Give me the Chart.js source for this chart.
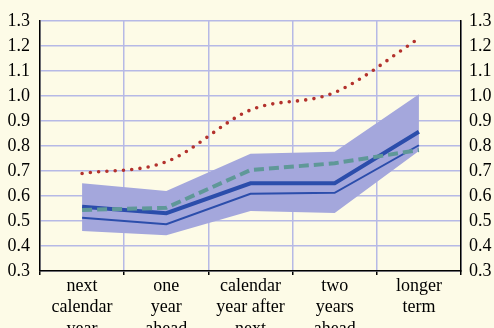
<!DOCTYPE html>
<html>
<head>
<meta charset="utf-8">
<script src="https://cdn.jsdelivr.net/npm/chart.js@4/dist/chart.umd.min.js"></script>
<style>
  html, body { margin: 0; padding: 0; background: #fdfbe7; }
  #wrap { width: 494px; height: 328px; }
</style>
</head>
<body>
<div id="wrap"><canvas id="chart" width="494" height="328"></canvas></div>
<script>
// categories (multi-line labels)
var horizons = [
    ["next", "calendar", "year"],
    ["one", "year", "ahead"],
    ["calendar", "year after", "next"],
    ["two", "years", "ahead"],
    ["longer", "term"]
];

// series
var bandLow   = [0.46, 0.443, 0.54, 0.532, 0.78];
var bandHigh  = [0.651, 0.62, 0.769, 0.777, 1.007];
var thickLine = [0.557, 0.531, 0.651, 0.651, 0.857];
var thinLine  = [0.513, 0.487, 0.609, 0.613, 0.803];
var dashLine  = [0.544, 0.553, 0.704, 0.731, 0.784];
var dotLine   = [0.69, 0.737, 0.944, 1.014, 1.23];

var yMin = 0.3, yMax = 1.3, yStep = 0.1;

var gridColor = "#b6b9e6";
var font = { family: "'Liberation Serif', 'Times New Roman', serif", size: 18 };

var chart = new Chart("chart", {
    type: "line",
    data: {
        labels: horizons,
        datasets: [{
            data: bandLow,
            borderWidth: 0,
            pointRadius: 0,
            fill: false,
            order: 10
        }, {
            data: bandHigh,
            borderWidth: 0,
            pointRadius: 0,
            backgroundColor: "#a4a7dc",
            fill: "-1",
            order: 9
        }, {
            data: thinLine,
            borderColor: "#2b4dab",
            borderWidth: 2,
            pointRadius: 0,
            fill: false,
            order: 5
        }, {
            data: thickLine,
            borderColor: "#2b4dab",
            borderWidth: 4,
            pointRadius: 0,
            fill: false,
            order: 4
        }, {
            data: dashLine,
            borderColor: "#5f9898",
            borderWidth: 4,
            borderDash: [10, 5],
            pointRadius: 0,
            fill: false,
            order: 3
        }, {
            data: dotLine,
            borderColor: "#b3322d",
            borderWidth: 3.6,
            borderDash: [0, 8.3],
            borderCapStyle: "round",
            pointRadius: 0,
            cubicInterpolationMode: "monotone",
            fill: false,
            order: 1
        }]
    },
    options: {
        responsive: false,
        animation: false,
        events: [],
        layout: { padding: { top: 21, right: 0, left: 0, bottom: 0 } },
        plugins: {
            legend: { display: false },
            tooltip: { enabled: false }
        },
        scales: {
            x: {
                offset: true,
                grid: {
                    offset: true,
                    color: gridColor,
                    lineWidth: 1.5,
                    tickColor: "#000",
                    tickLength: 4,
                    tickWidth: 1.5
                },
                border: { color: "#000", width: 1.5 },
                ticks: {
                    color: "#000",
                    font: font,
                    padding: 0,
                    maxRotation: 0,
                    autoSkip: false
                },
                afterFit: function(scale) { scale.height = 57; }
            },
            y: {
                min: yMin,
                max: yMax,
                grid: { color: gridColor, lineWidth: 1.5, drawTicks: false },
                border: { color: "#000", width: 1.5 },
                ticks: {
                    stepSize: yStep,
                    color: "#000",
                    font: font,
                    padding: 10,
                    callback: function(v) { return v.toFixed(1); }
                },
                afterFit: function(scale) { scale.width = 40; }
            },
            y2: {
                position: "right",
                min: yMin,
                max: yMax,
                grid: { drawOnChartArea: false, drawTicks: false },
                border: { color: "#000", width: 1.5 },
                ticks: {
                    stepSize: yStep,
                    color: "#000",
                    font: font,
                    padding: 8,
                    callback: function(v) { return v.toFixed(1); }
                },
                afterFit: function(scale) { scale.width = 33; }
            }
        }
    }
});
</script>
</body>
</html>
